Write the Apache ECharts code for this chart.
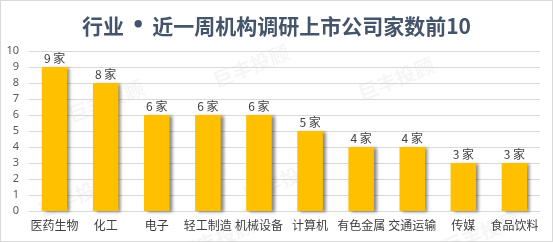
<!DOCTYPE html>
<html><head><meta charset="utf-8">
<script src="https://cdn.jsdelivr.net/npm/echarts@6/dist/echarts.min.js"></script>
<style>
html,body{margin:0;padding:0;background:#fff;}
#c{position:absolute;left:0;top:0;width:551px;height:240px;border:1px solid #d9d9d9;}
</style></head><body>
<div id="c"></div>
<script>
const titleLeft = '行业';
const titleRight = '近一周机构调研上市公司家数前10';
const categories = ['医药生物','化工','电子','轻工制造','机械设备','计算机','有色金属','交通运输','传媒','食品饮料'];
const values = [9,8,6,6,6,5,4,4,3,3];
const yTicks = [0,1,2,3,4,5,6,7,8,9,10];
const unit = '家';

const chart = echarts.init(document.getElementById('c'), null, {renderer:'canvas'});
const wm = [[105,100],[395,78],[75,195],[280,180],[215,238],[480,232],[250,65]];
const tStyle = {fontFamily:'Noto Sans CJK SC',fontSize:21,fontWeight:'bold',color:'#44546A'};
chart.setOption({
  animation:false,
  title:{text:'{a|'+titleLeft+'}{b| • }{a|'+titleRight+'}',left:'center',top:10,
    textStyle:Object.assign({},tStyle,{rich:{a:tStyle,b:{fontFamily:'DejaVu Sans',fontSize:21,fontWeight:'bold',color:'#44546A'}}})},
  grid:{left:28,right:12,top:50,bottom:30,containLabel:false},
  xAxis:{type:'category',data:categories,
    axisLine:{show:true,lineStyle:{color:'#d9d9d9'}},axisTick:{show:false},
    axisLabel:{interval:0,color:'#404040',fontSize:12,fontFamily:'Noto Sans CJK SC',margin:8}},
  yAxis:{type:'value',min:yTicks[0],max:yTicks[yTicks.length-1],interval:1,
    axisLine:{show:false},axisTick:{show:false},
    splitLine:{lineStyle:{color:'#d9d9d9'}},
    axisLabel:{color:'#595959',fontSize:11,fontFamily:'Noto Sans',margin:10}},
  graphic: wm.map(p=>({type:'text',x:p[0],y:p[1],rotation:0.38,z:-1,
    style:{text:'巨丰投顾',fill:'rgba(0,0,0,0.04)',font:'bold 20px "Noto Sans CJK SC"',textAlign:'center',textVerticalAlign:'middle'}})),
  series:[{type:'bar',data:values,barWidth:'50%',
    itemStyle:{color:'#FFC000',shadowColor:'rgba(0,0,0,0.45)',shadowBlur:3,shadowOffsetX:3,shadowOffsetY:1},
    label:{show:true,position:'top',distance:3,formatter:p=>p.value+' '+unit,color:'#404040',fontSize:12,fontFamily:'Noto Sans CJK SC'}}]
});
</script></body></html>
